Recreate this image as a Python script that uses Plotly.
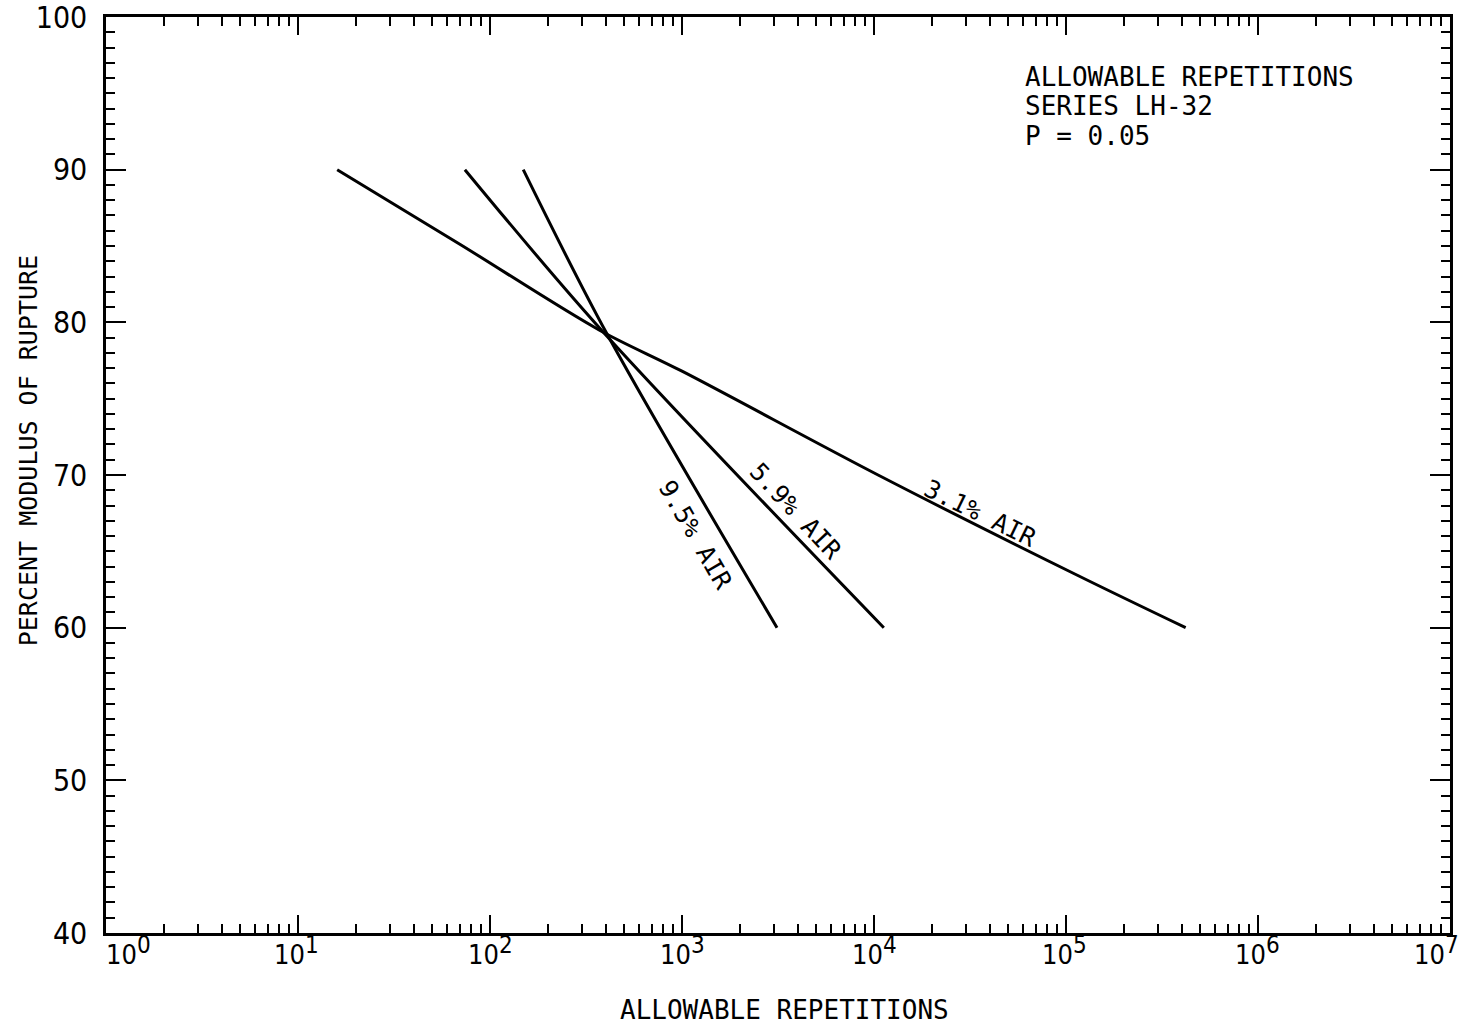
import math
import plotly.graph_objects as go

# Allowable repetitions vs. percent modulus of rupture, series LH-32, P = 0.05
air_31_reps = [16, 70, 370, 1000, 10500, 116000, 420000]
air_31_pct = [90, 85.1, 79.5, 76.8, 70.0, 63.4, 60]

air_59_reps = [74, 371, 11250]
air_59_pct = [90, 79.65, 60]

air_95_reps = [149, 403, 3125]
air_95_pct = [90, 79.33, 60]

# curve labels: text, position (reps, pct), angle
curve_labels = [
    ("3.1% AIR", 35900, 67.5, 26),
    ("5.9% AIR", 3920, 67.6, 47),
    ("9.5% AIR", 1170, 66.1, 60),
]

info_lines = ["ALLOWABLE REPETITIONS", "SERIES LH-32", "P = 0.05"]
info_pct = [96.1, 94.2, 92.2]
info_reps = 10 ** 4.774

decades = list(range(0, 8))
# horizontal nudge (px) of each decade label so the end labels stay inside
decade_label_shift = [22, -2, 0, 0, 0, -2, -1, -14]
y_ticks = [40, 50, 60, 70, 80, 90, 100]

FONT = "DejaVu Sans Mono, Liberation Mono, monospace"
NUM_FONT = "Liberation Sans Narrow, DejaVu Sans Condensed, DejaVu Sans Mono, sans-serif"

fig = go.Figure()
for xs, ys in [(air_31_reps, air_31_pct), (air_59_reps, air_59_pct), (air_95_reps, air_95_pct)]:
    fig.add_trace(go.Scatter(
        x=xs, y=ys, mode="lines",
        line=dict(color="black", width=3, shape="spline", smoothing=0.9),
        showlegend=False, hoverinfo="skip",
    ))

for text, xr, yp, ang in curve_labels:
    fig.add_annotation(
        x=math.log10(xr), y=yp, xref="x", yref="y",
        text=text, showarrow=False, textangle=ang,
        font=dict(family=FONT, size=25, color="black"),
    )

for line, yp in zip(info_lines, info_pct):
    fig.add_annotation(
        x=math.log10(info_reps), y=yp, xref="x", yref="y",
        text=line, showarrow=False, xanchor="left", yanchor="middle",
        font=dict(family=FONT, size=26, color="black"),
    )

# decade labels along the bottom axis
for k, dx in zip(decades, decade_label_shift):
    fig.add_annotation(
        x=k, y=-0.019, xref="x", yref="paper",
        text=f"10<sup><span style='font-size:24px'>{k}</span></sup>",
        showarrow=False, xanchor="center", yanchor="middle", xshift=dx,
        font=dict(family=NUM_FONT, size=27, color="black"),
    )

# axis titles
fig.add_annotation(
    x=0.5045, y=-0.084, xref="paper", yref="paper",
    text="ALLOWABLE REPETITIONS", showarrow=False,
    xanchor="center", yanchor="middle",
    font=dict(family=FONT, size=26, color="black"),
)
fig.add_annotation(
    x=-0.058, y=0.526, xref="paper", yref="paper",
    text="PERCENT MODULUS OF RUPTURE", showarrow=False, textangle=-90,
    xanchor="center", yanchor="middle",
    font=dict(family=FONT, size=25, color="black"),
)

minor_x = [m * 10 ** k for k in range(7) for m in range(2, 10)]

fig.update_xaxes(
    type="log", range=[0, 7],
    tickvals=[10 ** k for k in decades],
    showticklabels=False,
    ticks="inside", ticklen=18, tickwidth=2, tickcolor="black",
    minor=dict(tickvals=minor_x, ticks="inside", ticklen=9, tickwidth=2,
               tickcolor="black", showgrid=False),
    showline=True, linewidth=2.5, linecolor="black", mirror="ticks",
    showgrid=False, zeroline=False,
)
fig.update_yaxes(
    range=[40, 100], tickvals=y_ticks,
    ticks="inside", ticklen=20, tickwidth=2, tickcolor="black",
    minor=dict(dtick=1, tick0=40, ticks="inside", ticklen=9, tickwidth=2,
               tickcolor="black", showgrid=False),
    showline=True, linewidth=2.5, linecolor="black", mirror="ticks",
    showgrid=False, zeroline=False,
    tickfont=dict(family=NUM_FONT, size=30, color="black"),
    ticklabelstandoff=10,
    ticklabeloverflow="allow",
)

fig.update_layout(
    width=1458, height=1027,
    margin=dict(l=106, r=8, t=17, b=94, autoexpand=False),
    plot_bgcolor="white", paper_bgcolor="white",
)

fig.write_html("out.html")
